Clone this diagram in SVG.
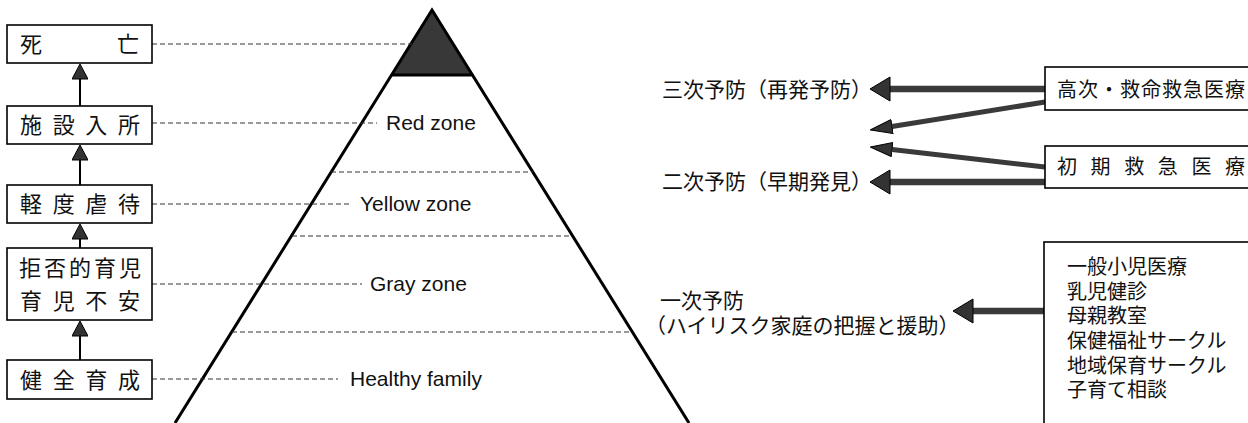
<svg xmlns="http://www.w3.org/2000/svg" width="1248" height="423" viewBox="0 0 1248 423">
<style>
.box{fill:#fff;stroke:#000;stroke-width:1.6}
.jp{font-family:"Noto Sans CJK JP","Noto Sans CJK SC",sans-serif;fill:#111}
.lbl{font-size:22px}
.rt{font-size:20px}
.rp{font-size:21px}
.zone{font-family:"Liberation Sans",Arial,sans-serif;font-size:21px;fill:#111}
.dash{stroke:#333;stroke-width:1;stroke-dasharray:5 3;fill:none}
.pyr{stroke:#000;stroke-width:3;fill:none}
.upl{stroke:#000;stroke-width:2;fill:none}
.shaft{stroke:#3a3a3a;stroke-width:6.5;fill:none}
.shaftd{stroke:#3a3a3a;stroke-width:5;fill:none}
</style>
<defs>
<marker id="upHead" markerUnits="userSpaceOnUse" markerWidth="16" markerHeight="16" viewBox="0 0 15 16" refX="0" refY="8" orient="auto">
<path d="M0,0 L15,8 L0,16 z" fill="#333" stroke="#000" stroke-width="1"/>
</marker>
<marker id="bigHead" markerUnits="userSpaceOnUse" markerWidth="21" markerHeight="26" viewBox="0 0 21 26" refX="0.5" refY="13" orient="auto">
<path d="M0.5,1 L20.5,13 L0.5,25 z" fill="#333" stroke="#000" stroke-width="1"/>
</marker>
<marker id="diagHead" markerUnits="userSpaceOnUse" markerWidth="23" markerHeight="16" viewBox="0 0 23 16" refX="0.5" refY="8" orient="auto">
<path d="M0.5,1 L22.5,8 L0.5,15 z" fill="#333" stroke="#000" stroke-width="1"/>
</marker>
</defs>
<rect width="1248" height="423" fill="#fff"/>

<g id="pyramid">
<polygon points="432,10 391.5,75 472.5,75" fill="#383838" stroke="#000" stroke-width="1.5"/>
<polyline class="pyr" points="175,423 432,10 689,423"/>
<line x1="391.5" y1="75" x2="472.5" y2="75" stroke="#000" stroke-width="3"/>
<line class="dash" x1="331" y1="172" x2="533" y2="172"/>
<line class="dash" x1="292" y1="236" x2="572" y2="236"/>
<line class="dash" x1="232" y1="332" x2="632" y2="332"/>
<text class="zone" x="386" y="130">Red zone</text>
<text class="zone" x="360" y="211">Yellow zone</text>
<text class="zone" x="370" y="291">Gray zone</text>
<text class="zone" x="350" y="386">Healthy family</text>
</g>

<g id="connectors">
<line class="dash" x1="152" y1="44" x2="412" y2="44"/>
<line class="dash" x1="152" y1="123" x2="377" y2="123"/>
<line class="dash" x1="152" y1="204" x2="352" y2="204"/>
<line class="dash" x1="152" y1="284" x2="362" y2="284"/>
<line class="dash" x1="152" y1="379" x2="338" y2="379"/>
<line class="upl" x1="80" y1="106" x2="80" y2="79" marker-end="url(#upHead)"/>
<line class="upl" x1="80" y1="185" x2="80" y2="160" marker-end="url(#upHead)"/>
<line class="upl" x1="80" y1="248" x2="80" y2="239" marker-end="url(#upHead)"/>
<line class="upl" x1="80" y1="360" x2="80" y2="336" marker-end="url(#upHead)"/>
<line class="shaft" x1="1045" y1="89" x2="890" y2="89" marker-end="url(#bigHead)"/>
<line class="shaftd" x1="1045" y1="102" x2="892" y2="126.5" marker-end="url(#diagHead)"/>
<line class="shaftd" x1="1045" y1="167" x2="892" y2="149.5" marker-end="url(#diagHead)"/>
<line class="shaft" x1="1045" y1="182" x2="890" y2="182" marker-end="url(#bigHead)"/>
<line class="shaft" x1="1045" y1="311" x2="973" y2="311" marker-end="url(#bigHead)"/>
</g>

<g id="n-death">
<rect class="box" x="7" y="25" width="145" height="38"/>
<text class="jp lbl" x="20" y="52">死</text>
<text class="jp lbl" x="117" y="52">亡</text>
</g>
<g id="n-facility">
<rect class="box" x="7" y="106" width="145" height="38"/>
<text class="jp lbl" x="20" y="133" textLength="120" lengthAdjust="spacing">施設入所</text>
</g>
<g id="n-mild">
<rect class="box" x="7" y="185" width="145" height="38"/>
<text class="jp lbl" x="20" y="212" textLength="120" lengthAdjust="spacing">軽度虐待</text>
</g>
<g id="n-reject">
<rect class="box" x="7" y="248" width="145" height="72"/>
<text class="jp lbl" x="19" y="276" textLength="122" lengthAdjust="spacing">拒否的育児</text>
<text class="jp lbl" x="20" y="309" textLength="120" lengthAdjust="spacing">育児不安</text>
</g>
<g id="n-healthy">
<rect class="box" x="7" y="360" width="145" height="39"/>
<text class="jp lbl" x="20" y="388" textLength="120" lengthAdjust="spacing">健全育成</text>
</g>

<g id="n-tertiary">
<text class="jp rp" x="662" y="97">三次予防（再発予防）</text>
</g>
<g id="n-secondary">
<text class="jp rp" x="662" y="189">二次予防（早期発見）</text>
</g>
<g id="n-primary">
<text class="jp rp" x="660" y="308">一次予防</text>
<text class="jp rp" x="645" y="333">（ハイリスク家庭の把握と援助）</text>
</g>
<g id="n-advanced">
<rect class="box" x="1045" y="67" width="220" height="43"/>
<text class="jp rt" x="1057" y="97" textLength="188" lengthAdjust="spacing">高次・救命救急医療</text>
</g>
<g id="n-initial">
<rect class="box" x="1045" y="146" width="220" height="42"/>
<text class="jp rt" x="1057" y="174" textLength="188" lengthAdjust="spacing">初期救急医療</text>
</g>
<g id="n-general">
<rect class="box" x="1044" y="242" width="220" height="200"/>
<text class="jp rt" x="1067" y="274">一般小児医療</text>
<text class="jp rt" x="1067" y="299">乳児健診</text>
<text class="jp rt" x="1067" y="323">母親教室</text>
<text class="jp rt" x="1067" y="348">保健福祉サークル</text>
<text class="jp rt" x="1067" y="373">地域保育サークル</text>
<text class="jp rt" x="1067" y="397">子育て相談</text>
</g>
</svg>
